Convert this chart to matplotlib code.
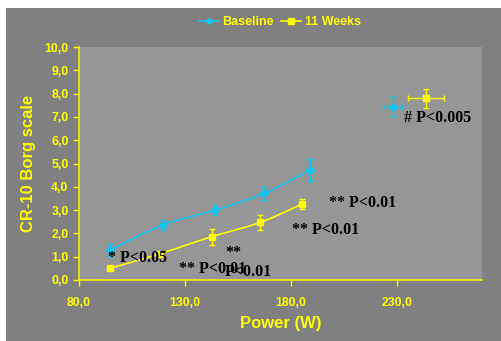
import numpy as np
import matplotlib
matplotlib.use('Agg')
import matplotlib.pyplot as plt
from matplotlib.patches import Rectangle
from matplotlib.ticker import FuncFormatter

# data
base_x = [94.6, 119.5, 144.2, 167.4, 189.0]
base_y = [1.29, 2.36, 3.00, 3.72, 4.72]
base_yerr = [0.27, 0.23, 0.21, 0.27, 0.46]
base_peak = (228.0, 7.44, 4.5, 0.41)  # x, y, xerr, yerr

wk_x = [94.6, 117.9, 142.6, 165.4, 185.0]
wk_y = [0.50, 1.12, 1.86, 2.47, 3.25]
wk_yerr = [0.05, 0.1, 0.34, 0.34, 0.21]
wk_peak = (243.5, 7.80, 8.6, 0.41)

notes = ['* P<0.05', '** P<0.01', '**', 'P<0.01', '** P<0.01', '** P<0.01', '# P<0.005']
note_x = [93.7, 127.1, 149.2, 148.8, 197.9, 180.4, 233.2]
note_y = [0.94, 0.47, 1.17, 0.36, 3.32, 2.15, 6.97]

cyan = '#10c4f0'
yellow = '#ffff00'


def smooth(xs, ys, n=20):
    # catmull-rom curve through the points, like the smoothed excel line
    xs = np.asarray(xs, float); ys = np.asarray(ys, float)
    px = np.concatenate([[2*xs[0]-xs[1]], xs, [2*xs[-1]-xs[-2]]])
    py = np.concatenate([[2*ys[0]-ys[1]], ys, [2*ys[-1]-ys[-2]]])
    ox, oy = [], []
    t = np.linspace(0, 1, n)
    for i in range(1, len(px) - 2):
        for p, o in ((px, ox), (py, oy)):
            p0, p1, p2, p3 = p[i-1], p[i], p[i+1], p[i+2]
            o.extend(0.5*((2*p1) + (-p0+p2)*t + (2*p0-5*p1+4*p2-p3)*t**2 + (-p0+3*p1-3*p2+p3)*t**3))
    return ox, oy


fig = plt.figure(figsize=(5.02, 3.41), dpi=100, facecolor='white')
fig.patches.append(Rectangle((6/502, 0), 1, (341-8)/341, transform=fig.transFigure,
                             facecolor='#808080', edgecolor='none', zorder=-10))
ax = fig.add_axes([79/502, 61/341, 403/502, 233/341])
ax.set_facecolor('#969696')

for xs, ys, err, pk, col, mk, ms in ((base_x, base_y, base_yerr, base_peak, cyan, 'D', 4),
                                    (wk_x, wk_y, wk_yerr, wk_peak, yellow, 's', 5)):
    sx, sy = smooth(xs, ys)
    ax.plot(sx, sy, color=col, lw=1.2, zorder=3)
    ax.errorbar(xs, ys, yerr=err, fmt=mk, color=col, ms=ms, capsize=2, elinewidth=1, zorder=4)
    ax.errorbar([pk[0]], [pk[1]], xerr=[pk[2]], yerr=[pk[3]], fmt=mk, color=col, ms=ms,
                capsize=2, elinewidth=1, zorder=4)

for t, x, y in zip(notes, note_x, note_y):
    ax.text(x, y, t, ha='left', va='center', fontsize=11.5, fontweight='bold',
            family='Liberation Serif', color='black', zorder=5)

ax.set_xlim(80, 270)
ax.set_ylim(0, 10)
ax.set_xticks([80, 130, 180, 230])
ax.set_yticks(np.arange(0, 11, 1))
fmt = FuncFormatter(lambda v, p: f'{v:.1f}'.replace('.', ','))
ax.xaxis.set_major_formatter(fmt)
ax.yaxis.set_major_formatter(fmt)
for s in ['top', 'right']:
    ax.spines[s].set_visible(False)
for s in ['left', 'bottom']:
    ax.spines[s].set_color('#f0f000')
    ax.spines[s].set_linewidth(1.2)
ax.tick_params(colors=yellow, length=4, width=1, direction='out')
ax.tick_params(axis='x', pad=8)
for lab in ax.get_xticklabels() + ax.get_yticklabels():
    lab.set_fontweight('bold')
    lab.set_fontsize(8.8)
    lab.set_family('Liberation Sans')
ax.set_xlabel('Power (W)', color=yellow, fontsize=12, fontweight='bold', family='Liberation Sans', labelpad=5)
ax.set_ylabel('CR-10 Borg scale', color=yellow, fontsize=12, fontweight='bold', family='Liberation Sans', labelpad=6)

h1, = ax.plot([], [], color=cyan, marker='D', ms=3, lw=1.2)
h2, = ax.plot([], [], color=yellow, marker='s', ms=4, lw=1.2)
leg = fig.legend([h1, h2], ['Baseline', '11 Weeks'], loc='center', bbox_to_anchor=(280/502, 1 - 22/341),
                 ncol=2, frameon=False, handlelength=1.6, handletextpad=0.3, columnspacing=0.6,
                 prop={'family': 'Liberation Sans', 'weight': 'bold', 'size': 9})
for t in leg.get_texts():
    t.set_color(yellow)

fig.savefig('out.png', dpi=100, facecolor='white')
